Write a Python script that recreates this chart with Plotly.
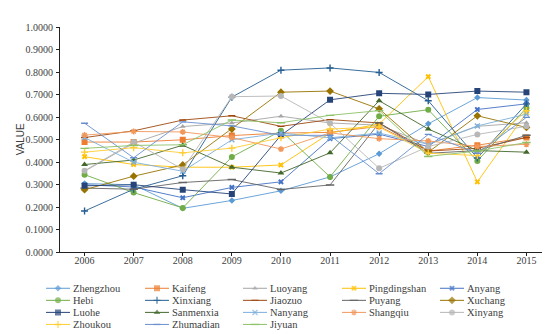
import plotly.graph_objects as go

years = ["2006", "2007", "2008", "2009", "2010", "2011", "2012", "2013", "2014", "2015"]

cities = ["Zhengzhou", "Kaifeng", "Luoyang", "Pingdingshan", "Anyang",
          "Hebi", "Xinxiang", "Jiaozuo", "Puyang", "Xuchang",
          "Luohe", "Sanmenxia", "Nanyang", "Shangqiu", "Xinyang",
          "Zhoukou", "Zhumadian", "Jiyuan"]

zhengzhou = [0.305, 0.300, 0.195, 0.230, 0.273, 0.335, 0.438, 0.571, 0.688, 0.677]
kaifeng = [0.490, 0.490, 0.500, 0.519, 0.530, 0.533, 0.560, 0.450, 0.476, 0.510]
luoyang = [0.360, 0.485, 0.559, 0.575, 0.605, 0.575, 0.565, 0.480, 0.560, 0.576]
pingdingshan = [0.425, 0.390, 0.378, 0.378, 0.388, 0.530, 0.570, 0.781, 0.313, 0.620]
anyang = [0.300, 0.290, 0.242, 0.288, 0.313, 0.505, 0.525, 0.470, 0.635, 0.660]
hebi = [0.345, 0.265, 0.197, 0.424, 0.540, 0.335, 0.605, 0.634, 0.406, 0.642]
xinxiang = [0.183, 0.280, 0.340, 0.690, 0.810, 0.820, 0.800, 0.674, 0.419, 0.660]
jiaozuo = [0.510, 0.540, 0.588, 0.607, 0.560, 0.590, 0.575, 0.450, 0.462, 0.510]
puyang = [0.285, 0.280, 0.310, 0.323, 0.279, 0.299, 0.575, 0.440, 0.452, 0.520]
xuchang = [0.278, 0.338, 0.388, 0.548, 0.712, 0.717, 0.638, 0.445, 0.607, 0.555]
luohe = [0.295, 0.300, 0.278, 0.259, 0.520, 0.678, 0.707, 0.702, 0.717, 0.712]
sanmenxia = [0.390, 0.410, 0.476, 0.378, 0.352, 0.442, 0.674, 0.548, 0.452, 0.445]
nanyang = [0.510, 0.400, 0.360, 0.500, 0.530, 0.509, 0.530, 0.480, 0.562, 0.614]
shangqiu = [0.521, 0.537, 0.535, 0.510, 0.459, 0.531, 0.505, 0.495, 0.470, 0.480]
xinyang = [0.362, 0.490, 0.369, 0.692, 0.695, 0.574, 0.373, 0.470, 0.524, 0.560]
zhoukou = [0.445, 0.465, 0.442, 0.463, 0.509, 0.548, 0.557, 0.440, 0.430, 0.630]
zhumadian = [0.574, 0.420, 0.580, 0.562, 0.520, 0.520, 0.349, 0.524, 0.440, 0.600]
jiyuan = [0.462, 0.475, 0.478, 0.588, 0.576, 0.609, 0.630, 0.426, 0.450, 0.488]

series = [zhengzhou, kaifeng, luoyang, pingdingshan, anyang,
          hebi, xinxiang, jiaozuo, puyang, xuchang,
          luohe, sanmenxia, nanyang, shangqiu, xinyang,
          zhoukou, zhumadian, jiyuan]

colors = ["#5B9BD5", "#ED7D31", "#A5A5A5", "#FFC000", "#4472C4",
          "#70AD47", "#255E91", "#9E480E", "#636363", "#997300",
          "#264478", "#43682B", "#7CAFDD", "#F1975A", "#B7B7B7",
          "#FFCD33", "#698ED0", "#8CC168"]
symbols = ["diamond", "square", "triangle-up", "x", "x",
           "circle", "cross-thin", "line-ew", "line-ew", "diamond",
           "square", "triangle-up", "x-thin", "asterisk", "circle",
           "cross-thin", "line-ew", "line-ew"]
sizes = [5, 6, 5, 5, 5, 6, 5, 5, 6, 6, 6, 6, 5, 5, 6, 5, 5, 6]

W, H = 550, 334
# pixel layout of the plot area
PL, PR, PT, PB = 52, 543, 14, 247
# custom legend grid (pixels)
leg_cols = [38, 137, 235, 334, 432]
leg_rows = [284.5, 297, 309.5, 322]
LEG_TOP = 258

fig = go.Figure()
for name, vals, c, s, sz in zip(cities, series, colors, symbols, sizes):
    open_sym = s in ("cross-thin", "line-ew", "x-thin", "asterisk")
    fig.add_trace(go.Scatter(
        x=years, y=vals, name=name, mode="lines+markers",
        line=dict(color=c, width=0.9),
        marker=dict(symbol=s, size=sz, color=c,
                    line=dict(color=c, width=1.4 if open_sym else 0)),
        showlegend=False, xaxis="x", yaxis="y",
    ))

annotations = []
for i, (name, c, s, sz) in enumerate(zip(cities, colors, symbols, sizes)):
    open_sym = s in ("cross-thin", "line-ew", "x-thin", "asterisk")
    x0 = leg_cols[i % 5]
    yr = leg_rows[i // 5]
    fig.add_trace(go.Scatter(
        x=[x0, x0 + 12, x0 + 24], y=[yr, yr, yr], mode="lines+markers",
        line=dict(color=c, width=1.0),
        marker=dict(symbol=s, size=[0, sz, 0], color=c,
                    line=dict(color=c, width=1.4 if open_sym else 0)),
        showlegend=False, hoverinfo="skip", xaxis="x2", yaxis="y2",
    ))
    annotations.append(dict(
        x=x0 + 25, y=yr, xref="x2", yref="y2", text=name, showarrow=False,
        xanchor="left", yanchor="middle",
        font=dict(family="Liberation Serif", size=10.5, color="#404040"),
    ))

annotations.append(dict(
    x=12 / W, y=(H - 130) / H, xref="paper", yref="paper", text="VALUE",
    showarrow=False, textangle=-90, xanchor="center", yanchor="middle",
    font=dict(family="Liberation Sans", size=10, color="#404040"),
))

fig.update_layout(
    width=W, height=H,
    margin=dict(l=0, r=0, t=0, b=0),
    paper_bgcolor="white", plot_bgcolor="rgba(0,0,0,0)",
    font=dict(family="Liberation Serif", size=10, color="#404040"),
    showlegend=False,
    annotations=annotations,
    xaxis=dict(type="category", range=[-0.5, 9.5], showgrid=False,
               domain=[PL / W, PR / W], anchor="y",
               showline=True, linecolor="#222", linewidth=1.2,
               ticks="outside", ticklen=3, tickcolor="#222",
               ticklabelstandoff=-4,
               tickfont=dict(family="Liberation Serif", size=10, color="#404040")),
    yaxis=dict(range=[0, 1.0], dtick=0.1, tickformat=".4f", showgrid=False,
               domain=[(H - PB) / H, (H - PT) / H], anchor="x",
               showline=True, linecolor="#222", linewidth=1.2,
               ticks="outside", ticklen=3, tickcolor="#222", zeroline=False,
               ticklabelstandoff=1,
               tickfont=dict(family="Liberation Serif", size=10, color="#404040")),
    xaxis2=dict(domain=[0, 1], range=[0, W], visible=False, anchor="y2",
                fixedrange=True),
    yaxis2=dict(domain=[0, (H - LEG_TOP) / H], range=[H, LEG_TOP], visible=False,
                anchor="x2", fixedrange=True),
)

fig.write_html("out.html")
